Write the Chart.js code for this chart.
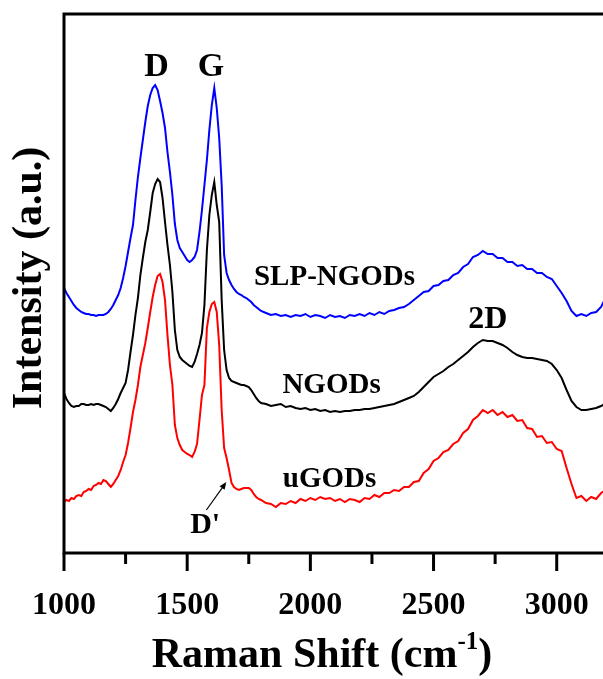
<!DOCTYPE html>
<html>
<head>
<meta charset="utf-8">
<title>Raman spectra</title>
<script src="https://cdn.jsdelivr.net/npm/chart.js@4.4.0/dist/chart.umd.min.js"></script>
<style>
  html, body { margin: 0; padding: 0; background: #fff; overflow: hidden; }
  canvas { display: block; }
</style>
</head>
<body>
<canvas id="ramanChart" width="620" height="679"></canvas>
<script>
// Raman shift (cm-1) sampling points, shared by the three spectra
const ramanShift = [
    1000, 1010, 1020, 1030, 1040, 1050, 1060, 1070, 1080, 1090,
    1100, 1110, 1120, 1130, 1140, 1150, 1160, 1170, 1180, 1190,
    1200, 1210, 1220, 1230, 1240, 1250, 1260, 1270, 1280, 1290,
    1300, 1310, 1320, 1330, 1340, 1350, 1360, 1370, 1380, 1390,
    1400, 1410, 1420, 1430, 1440, 1450, 1460, 1470, 1480, 1490,
    1500, 1510, 1520, 1530, 1540, 1550, 1560, 1570, 1580, 1590,
    1600, 1610, 1620, 1630, 1640, 1650, 1660, 1670, 1680, 1690,
    1700, 1710, 1720, 1730, 1740, 1750, 1760, 1770, 1780, 1790,
    1800, 1820, 1840, 1860, 1880, 1900, 1920, 1940, 1960, 1980,
    2000, 2020, 2040, 2060, 2080, 2100, 2120, 2140, 2160, 2180,
    2200, 2220, 2240, 2260, 2280, 2300, 2320, 2340, 2360, 2380,
    2400, 2420, 2440, 2460, 2480, 2500, 2520, 2540, 2560, 2580,
    2600, 2620, 2640, 2660, 2680, 2700, 2720, 2740, 2760, 2780,
    2800, 2820, 2840, 2860, 2880, 2900, 2920, 2940, 2960, 2980,
    3000, 3020, 3040, 3060, 3080, 3100, 3120, 3140, 3160, 3180,
    3200
];

// SLP-NGODs (blue, stacked on top)
const slpNgods = [
    265, 260, 256, 252, 248, 245, 243, 241, 240, 239,
    239, 238, 238, 237, 238, 238, 238, 239, 241, 244,
    248, 253, 258, 265, 275, 287, 301, 315, 328, 353,
    376, 395, 413, 431, 447, 458, 465, 468, 463, 452,
    440, 425, 401, 381, 358, 329, 313, 305, 301, 297,
    293, 291, 293, 296, 303, 321, 343, 368, 393, 423,
    448, 465, 445, 415, 368, 298, 280, 273, 268, 264,
    261, 259, 258, 256, 255, 253, 251, 248, 246, 244,
    242, 240, 238, 239, 237, 238, 236, 238, 237, 239,
    236, 238, 237, 235, 238, 236, 237, 235, 238, 237,
    239, 237, 240, 238, 241, 239, 242, 243, 245, 246,
    249, 253, 257, 261, 262, 267, 268, 272, 273, 278,
    280, 286, 289, 296, 298, 302, 299, 299, 295, 295,
    291, 291, 287, 288, 284, 284, 280, 280, 276, 274,
    267, 260, 252, 242, 237, 239, 237, 240, 241, 246,
    256
];

// NGODs (black, middle)
const ngods = [
    160, 154, 150, 147, 146, 147, 147, 149, 149, 148,
    148, 149, 148, 149, 149, 148, 147, 146, 144, 142,
    145, 149, 154, 160, 165, 170, 183, 201, 218, 238,
    255, 278, 295, 311, 323, 341, 360, 369, 374, 371,
    355, 331, 308, 288, 261, 223, 203, 196, 193, 191,
    189, 187, 186, 191, 199, 208, 220, 248, 303, 338,
    358, 371, 348, 331, 253, 203, 183, 175, 172, 171,
    170, 169, 168, 168, 167, 166, 163, 159, 155, 152,
    150, 149, 147, 148, 149, 146, 147, 145, 144, 145,
    143, 144, 142, 143, 141, 142, 141, 142, 142, 143,
    143, 144, 144, 145, 146, 147, 148, 149, 151, 153,
    155, 157, 161, 166, 171, 176, 179, 182, 186, 189,
    193, 197, 201, 206, 210, 213, 212, 212, 210, 208,
    205, 201, 198, 196, 195, 195, 194, 193, 192, 189,
    183, 175, 163, 152, 146, 143, 143, 144, 145, 147,
    150
];

// uGODs (red, bottom)
const ugods = [
    51, 53, 52, 55, 54, 57, 58, 57, 61, 62,
    64, 63, 67, 68, 70, 69, 73, 72, 69, 66,
    69, 73, 77, 83, 91, 98, 110, 125, 141, 153,
    168, 186, 198, 210, 225, 241, 256, 268, 277, 279,
    271, 253, 218, 188, 168, 128, 115, 108, 103, 101,
    99, 98, 96, 101, 109, 133, 158, 168, 225, 241,
    249, 251, 241, 208, 143, 105, 95, 83, 70, 66,
    64, 63, 64, 65, 65, 65, 63, 59, 56, 54,
    53, 50, 49, 46, 50, 49, 52, 50, 54, 52,
    55, 53, 56, 54, 55, 52, 54, 51, 54, 53,
    51, 55, 54, 58, 56, 60, 60, 63, 62, 66,
    66, 71, 72, 80, 84, 92, 95, 101, 103, 109,
    112, 120, 124, 133, 137, 143, 140, 143, 138, 141,
    136, 138, 132, 133, 125, 124, 116, 117, 110, 111,
    104, 102, 85, 69, 55, 57, 52, 56, 54, 60,
    63
];

// Tick values shown on the x axis
const majorTicks = [1000, 1500, 2000, 2500, 3000];
const minorTicks = [1250, 1750, 2250, 2750];

// Text labels placed in data coordinates [shift, intensity]
const peakLabels = [
    { text: 'D', at: [1376, 477], size: 34 },
    { text: 'G', at: [1597, 477], size: 34 },
    { text: '2D', at: [2720, 225], size: 32 },
    { text: 'SLP-NGODs', at: [2098, 268], size: 29 },
    { text: 'NGODs', at: [2086, 160], size: 29 },
    { text: 'uGODs', at: [2078, 66], size: 29 },
    { text: "D'", at: [1573, 20], size: 30 }
];
const arrowFrom = [1578, 43];
const arrowTo = [1659, 71];

const serif = '"Liberation Serif", "Times New Roman", serif';

const toPoints = (values) => ramanShift.map((x, i) => ({ x: x, y: values[i] }));

// Frame, tick marks + labels, annotations and axis titles
const decorPlugin = {
    id: 'decor',
    afterDraw(chart) {
        const { ctx, chartArea: a, scales: { x, y } } = chart;
        ctx.save();
        ctx.strokeStyle = '#000';
        ctx.fillStyle = '#000';

        // frame
        ctx.lineWidth = 3;
        ctx.strokeRect(a.left, a.top, a.right - a.left, a.bottom - a.top);

        // tick marks below the axis
        majorTicks.concat(minorTicks).forEach(v => {
            const px = x.getPixelForValue(v);
            const len = majorTicks.includes(v) ? 18 : 11;
            ctx.beginPath();
            ctx.moveTo(px, a.bottom);
            ctx.lineTo(px, a.bottom + len);
            ctx.stroke();
        });

        // tick labels
        ctx.textAlign = 'center';
        ctx.textBaseline = 'alphabetic';
        ctx.font = 'bold 32px ' + serif;
        majorTicks.forEach(v => {
            ctx.fillText(String(v), x.getPixelForValue(v), a.bottom + 61);
        });

        // peak / sample labels
        peakLabels.forEach(l => {
            ctx.font = 'bold ' + l.size + 'px ' + serif;
            ctx.fillText(l.text, x.getPixelForValue(l.at[0]), y.getPixelForValue(l.at[1]));
        });

        // arrow pointing to D'
        const x1 = x.getPixelForValue(arrowFrom[0]), y1 = y.getPixelForValue(arrowFrom[1]);
        const x2 = x.getPixelForValue(arrowTo[0]), y2 = y.getPixelForValue(arrowTo[1]);
        const ang = Math.atan2(y2 - y1, x2 - x1);
        ctx.lineWidth = 1.2;
        ctx.beginPath();
        ctx.moveTo(x1, y1);
        ctx.lineTo(x2 - 5 * Math.cos(ang), y2 - 5 * Math.sin(ang));
        ctx.stroke();
        ctx.beginPath();
        ctx.moveTo(x2, y2);
        ctx.lineTo(x2 - 8 * Math.cos(ang - 0.4), y2 - 8 * Math.sin(ang - 0.4));
        ctx.lineTo(x2 - 8 * Math.cos(ang + 0.4), y2 - 8 * Math.sin(ang + 0.4));
        ctx.closePath();
        ctx.fill();

        // x title with superscript
        const main = 'Raman Shift (cm', sup = '-1', close = ')';
        ctx.textAlign = 'left';
        ctx.font = 'bold 42px ' + serif;
        const w1 = ctx.measureText(main).width, w3 = ctx.measureText(close).width;
        ctx.font = 'bold 25px ' + serif;
        const w2 = ctx.measureText(sup).width;
        let sx = 322 - (w1 + w2 + w3) / 2;
        const base = 667;
        ctx.font = 'bold 42px ' + serif;
        ctx.fillText(main, sx, base);
        sx += w1;
        ctx.font = 'bold 25px ' + serif;
        ctx.fillText(sup, sx, base - 18);
        sx += w2;
        ctx.font = 'bold 42px ' + serif;
        ctx.fillText(close, sx, base);

        // y title
        ctx.translate(41, 278);
        ctx.rotate(-Math.PI / 2);
        ctx.textAlign = 'center';
        ctx.fillText('Intensity (a.u.)', 0, 0);
        ctx.restore();
    }
};

const ctx = document.getElementById('ramanChart').getContext('2d');
new Chart(ctx, {
    type: 'line',
    data: {
        datasets: [
            { label: 'SLP-NGODs', data: toPoints(slpNgods), borderColor: '#0000ff' },
            { label: 'NGODs', data: toPoints(ngods), borderColor: '#000000' },
            { label: 'uGODs', data: toPoints(ugods), borderColor: '#ff0000' }
        ]
    },
    options: {
        responsive: false,
        animation: false,
        elements: {
            line: { borderWidth: 2, tension: 0 },
            point: { radius: 0 }
        },
        layout: { padding: { left: 64, top: 14, right: 14, bottom: 0 } },
        plugins: {
            legend: { display: false },
            tooltip: { enabled: false }
        },
        scales: {
            x: {
                type: 'linear',
                min: 1000,
                max: 3200,
                border: { display: false },
                grid: { display: false, drawTicks: false },
                ticks: { display: false },
                afterFit: (scale) => { scale.height = 126; }
            },
            y: {
                display: false,
                min: 0,
                max: 539
            }
        }
    },
    plugins: [decorPlugin]
});
</script>
</body>
</html>
